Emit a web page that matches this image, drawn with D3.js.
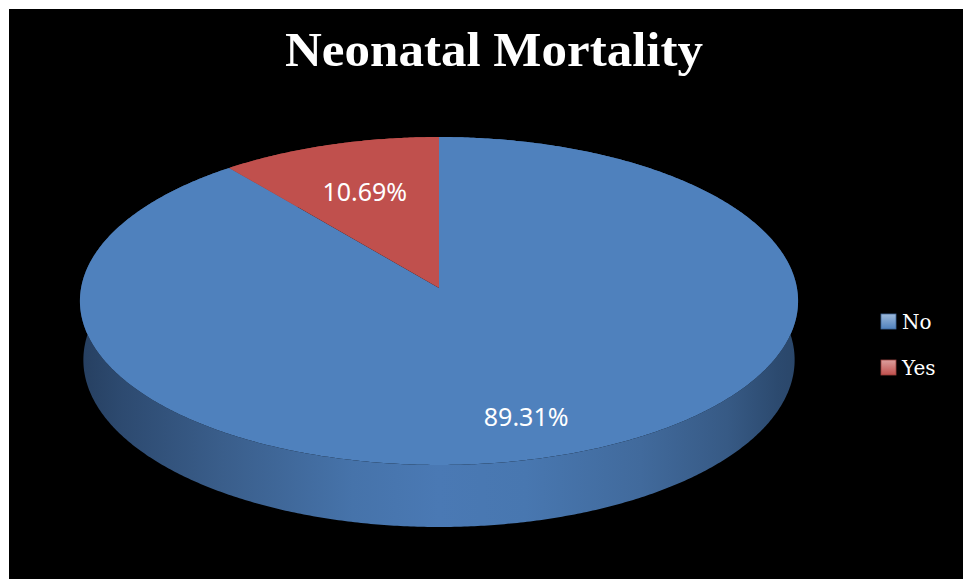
<!DOCTYPE html>
<html>
<head>
<meta charset="utf-8">
<script src="https://cdn.jsdelivr.net/npm/d3@7"></script>
<style>
  html, body { margin: 0; padding: 0; background: #ffffff; }
  svg { display: block; }
</style>
</head>
<body>
<svg id="chart" width="963" height="579"></svg>
<script>
// ---- data ----
const chartTitle = "Neonatal Mortality";
const categories = ["No", "Yes"];
const values = [89.31, 10.69];
const valueLabels = ["89.31%", "10.69%"];
const sliceColors = ["#4f81bd", "#c0504d"];

// ---- layout ----
const W = 963, H = 579;
const svg = d3.select("#chart");

// 3D perspective of the pie disc (radius = 1 in model units)
const view = {
  cx: 439, cy: 288,          // screen position of the disc centre
  tilt: 30 * Math.PI / 180,  // elevation of the camera
  dist: 10.94,               // camera distance
  fx: 3916, fy: 3565,        // horizontal / vertical focal scales
  depth: 0.2106              // thickness of the disc
};
const sT = Math.sin(view.tilt), cT = Math.cos(view.tilt);

function project(theta, rho, y) {
  const X = rho * Math.sin(theta);
  const Z = rho * Math.cos(theta);
  const yv = Z * sT + y * cT;
  const zv = Z * cT - y * sT + view.dist;
  return [view.cx + view.fx * X / zv, view.cy - view.fy * yv / zv];
}

function rim(a, b, y) {
  const n = Math.max(2, Math.ceil(Math.abs(b - a) / (Math.PI / 360)));
  return d3.range(n + 1).map(i => project(a + (b - a) * i / n, 1, y));
}

const line = d3.line().curve(d3.curveLinear);

// background panel
svg.append("rect").attr("x", 0).attr("y", 0).attr("width", W).attr("height", H).attr("fill", "#ffffff");
svg.append("rect").attr("x", 9).attr("y", 9).attr("width", W - 9).attr("height", H - 9).attr("fill", "#000000");

// gradients
const defs = svg.append("defs");
const sideStops = {
  "#4f81bd": [[0, "#263f60"], [0.06, "#2d4a70"], [0.2, "#3a5e8b"], [0.38, "#4673aa"], [0.5, "#4a79b4"],
              [0.62, "#4877b0"], [0.78, "#416a9c"], [0.9, "#375a85"], [0.97, "#2c4a6f"], [1, "#2a4669"]],
  "#c0504d": [[0, "#6e2b2a"], [0.5, "#b04a47"], [1, "#6e2b2a"]]
};
const pieLeft = project(-Math.PI / 2, 1, 0)[0] - 2;
const pieRight = project(Math.PI / 2, 1, 0)[0] + 2;
sliceColors.forEach((c, i) => {
  const g = defs.append("linearGradient")
    .attr("id", "side" + i)
    .attr("gradientUnits", "userSpaceOnUse")
    .attr("x1", pieLeft).attr("x2", pieRight).attr("y1", 0).attr("y2", 0);
  sideStops[c].forEach(([o, col]) => g.append("stop").attr("offset", o).attr("stop-color", col));
  const lg = defs.append("linearGradient")
    .attr("id", "legend" + i)
    .attr("x1", 0).attr("x2", 0).attr("y1", 0).attr("y2", 1);
  lg.append("stop").attr("offset", 0).attr("stop-color", d3.interpolateRgb(c, "#ffffff")(0.45));
  lg.append("stop").attr("offset", 1).attr("stop-color", c);
});

// slices
const pie = d3.pie().sort(null).value(d => d);
const arcs = pie(values);

const gPie = svg.append("g");

// side walls
arcs.forEach((d, i) => {
  const top = rim(d.startAngle, d.endAngle, 0);
  const bottom = rim(d.endAngle, d.startAngle, -view.depth);
  gPie.append("path")
    .attr("d", line(top.concat(bottom)) + "Z")
    .attr("fill", `url(#side${i})`);
});

// top faces
arcs.forEach((d, i) => {
  const pts = [[view.cx, view.cy]].concat(rim(d.startAngle, d.endAngle, 0));
  gPie.append("path")
    .attr("d", line(pts) + "Z")
    .attr("fill", sliceColors[i]);
});

// value labels
const labelRho = [0.7, 0.66];
const labelShift = [14, 0];
arcs.forEach((d, i) => {
  const mid = (d.startAngle + d.endAngle) / 2;
  const [x, y] = project(mid, labelRho[i], 0);
  svg.append("text")
    .attr("x", x).attr("y", y + labelShift[i])
    .attr("text-anchor", "middle")
    .attr("dominant-baseline", "central")
    .attr("font-family", "'Noto Sans', 'Open Sans', sans-serif")
    .attr("font-size", 25)
    .attr("fill", "#ffffff")
    .text(valueLabels[i]);
});

// title
svg.append("text")
  .attr("x", 494).attr("y", 66)
  .attr("text-anchor", "middle")
  .attr("font-family", "'Liberation Serif', 'DejaVu Serif', serif")
  .attr("font-weight", "bold")
  .attr("font-size", 48)
  .attr("fill", "#ffffff")
  .attr("textLength", 418)
  .attr("lengthAdjust", "spacingAndGlyphs")
  .text(chartTitle);

// legend
const legend = svg.append("g").attr("transform", "translate(881,314)");
const legendY = d3.scaleBand().domain(categories).range([0, 92]).paddingInner(0);
categories.forEach((c, i) => {
  const g = legend.append("g").attr("transform", `translate(0,${legendY(c)})`);
  g.append("rect")
    .attr("x", 0).attr("y", 0).attr("width", 15).attr("height", 15)
    .attr("fill", `url(#legend${i})`)
    .attr("stroke", d3.color(sliceColors[i]).darker(0.6))
    .attr("stroke-width", 0.8);
  g.append("text")
    .attr("x", 21).attr("y", 15)
    .attr("font-family", "'DejaVu Serif', 'Liberation Serif', serif")
    .attr("font-size", 20)
    .attr("fill", "#ffffff")
    .text(c);
});
</script>
</body>
</html>
